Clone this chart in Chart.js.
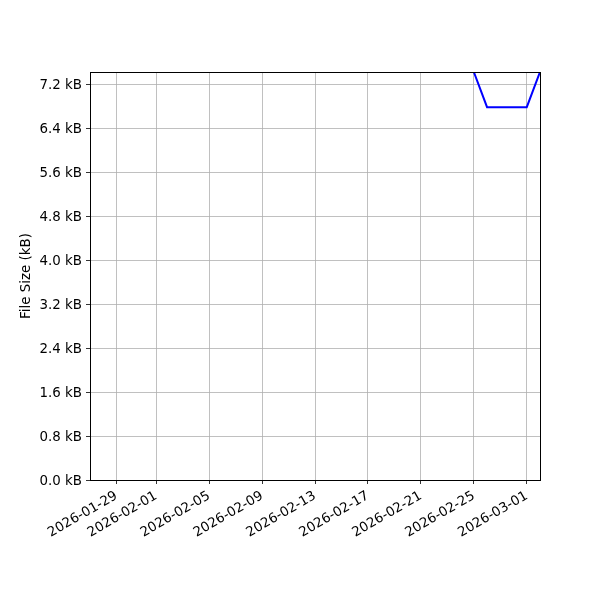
<!DOCTYPE html>
<html>
<head>
<meta charset="utf-8">
<script src="https://cdn.jsdelivr.net/npm/chart.js@4"></script>
<style>
html,body{margin:0;padding:0;background:#fff;}
#wrap{width:600px;height:600px;}
</style>
</head>
<body>
<div id="wrap"><canvas id="c" width="600" height="600"></canvas></div>
<script>
const dates = ['2026-02-25','2026-02-26','2026-02-27','2026-02-28','2026-03-01','2026-03-02'];
const sizesKB = [7.42, 6.78, 6.78, 6.78, 6.78, 7.42];
const xTickDates = ['2026-01-29','2026-02-01','2026-02-05','2026-02-09','2026-02-13','2026-02-17','2026-02-21','2026-02-25','2026-03-01'];
const yTicks = [0, 0.8, 1.6, 2.4, 3.2, 4.0, 4.8, 5.6, 6.4, 7.2];
const xMinDate = '2026-01-27';
const xMaxDate = '2026-03-02';
const yMax = 7.42;

const toMs = d => Date.parse(d + 'T00:00:00Z');
const fmt = v => new Date(v).toISOString().slice(0,10);

const FONT = {family: 'DejaVu Sans', size: 13.4};

const frame = {
  id: 'frame',
  afterDraw(chart) {
    const a = chart.chartArea, ctx = chart.ctx;
    ctx.save();
    ctx.strokeStyle = '#000';
    ctx.lineWidth = 1;
    ctx.strokeRect(Math.round(a.left)+0.5, Math.round(a.top)+0.5, Math.round(a.right-a.left), Math.round(a.bottom-a.top));
    ctx.restore();
  }
};

new Chart(document.getElementById('c'), {
  type: 'line',
  data: {
    datasets: [{
      data: dates.map((d,i) => ({x: toMs(d), y: sizesKB[i]})),
      borderColor: '#0000ff',
      borderWidth: 2,
      pointRadius: 0,
      tension: 0,
      fill: false
    }]
  },
  options: {
    responsive: false,
    animation: false,
    devicePixelRatio: 1,
    layout: {padding: {left: 0, top: 72, right: 60, bottom: 0}},
    plugins: {legend: {display: false}, tooltip: {enabled: false}},
    scales: {
      x: {
        type: 'linear',
        min: toMs(xMinDate),
        max: toMs(xMaxDate),
        afterBuildTicks: s => { s.ticks = xTickDates.map(d => ({value: toMs(d)})); },
        afterFit: s => { s.height = 120; },
        ticks: {
          callback: v => fmt(v),
          minRotation: 30, maxRotation: 30,
          color: '#000', font: FONT, padding: 4, autoSkip: false
        },
        grid: {color: '#b0b0b0', lineWidth: 0.8, tickColor: '#000', tickLength: 4, drawTicks: true},
        border: {display: false}
      },
      y: {
        type: 'linear',
        min: 0,
        max: yMax,
        afterBuildTicks: s => { s.ticks = yTicks.map(v => ({value: v})); },
        afterFit: s => { s.width = 90; },
        ticks: {
          callback: v => v.toFixed(1) + ' kB',
          color: '#000', font: FONT, padding: 4, labelOffset: 1.5
        },
        title: {display: true, text: 'File Size (kB)', color: '#000', font: FONT, padding: {top: 18, bottom: 0}},
        grid: {color: '#b0b0b0', lineWidth: 0.8, tickColor: '#000', tickLength: 4, drawTicks: true},
        border: {display: false}
      }
    }
  },
  plugins: [frame]
});
</script>
</body>
</html>
